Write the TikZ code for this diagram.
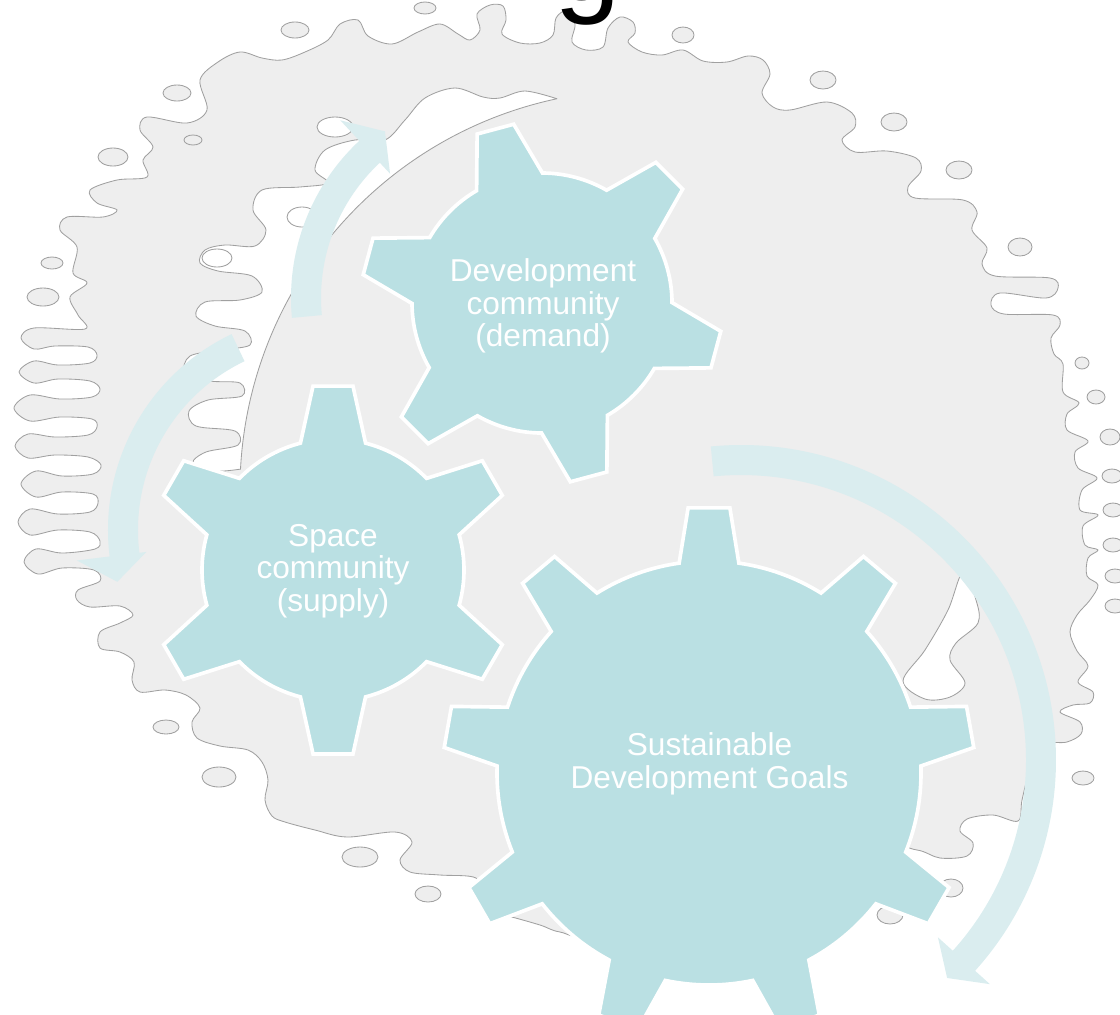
\documentclass[tikz,border=0pt]{standalone}
\usepackage{fontspec}
\newfontfamily\gearfont{Liberation Sans}
\definecolor{gearfill}{RGB}{186,224,227}
\definecolor{arrowfill}{RGB}{218,237,239}
\definecolor{splatgray}{RGB}{238,238,238}
\definecolor{splatline}{RGB}{160,160,160}
\tikzstyle{gear}=[fill=gearfill, draw=white, line width=2.6pt]
\tikzstyle{cyclearrow}=[fill=arrowfill]
\tikzstyle{splat}=[fill=splatgray, draw=splatline, line width=0.6pt]
\tikzstyle{hole}=[fill=white, draw=splatline, line width=0.6pt]
\tikzstyle{gearlabel}=[text=white, align=center, inner sep=0pt, font=\gearfont\fontsize{22.5pt}{23.3pt}\selectfont]

% centre, teeth, first tooth, body radius, tip radius, half base angle, half tip angle
\newcommand{\gearshape}[7]{%
  \filldraw[gear, shift={#1}] ({#3-#6}:#4)
    \foreach \k in {1,...,#2} {
      -- ({#3+(\k-1)*360/#2-#7}:#5) -- ({#3+(\k-1)*360/#2+#7}:#5)
      -- ({#3+(\k-1)*360/#2+#6}:#4)
      arc[start angle={#3+(\k-1)*360/#2+#6}, end angle={#3+\k*360/#2-#6}, radius=#4]
    } -- cycle;
}

\begin{document}
\begin{tikzpicture}[x=0.25mm, y=-0.25mm]
  \useasboundingbox (0,0) rectangle (1120,1014);

  % splash in the background
  \draw[splat] plot[smooth cycle, tension=0.55] coordinates {
    (200,80) (218,62) (240,52) (262,58) (282,60) (305,52) (328,40) (340,24) (358,20) (368,36)
    (392,44) (418,32) (440,24) (458,34) (470,40) (480,30) (477,14) (490,5) (503,6) (506,20)
    (502,34) (520,43) (540,43) (553,35) (556,18) (566,11) (575,24) (572,42) (586,50) (603,47)
    (608,28) (620,17) (633,22) (635,33) (628,42) (642,52) (662,55) (683,50) (703,61) (727,62)
    (748,56) (763,60) (770,74) (762,93) (773,107) (790,110) (827,102) (852,113) (855,127) (842,140)
    (855,152) (887,151) (916,158) (921,171) (908,187) (915,198) (963,200) (977,212) (972,230) (987,248)
    (982,264) (995,276) (1050,278) (1058,288) (1046,298) (1000,293) (991,305) (1004,314) (1053,315) (1060,325)
    (1051,338) (1054,354) (1063,364) (1063,392) (1079,403) (1067,414) (1067,430) (1088,441) (1075,452) (1078,468)
    (1097,478) (1082,490) (1080,510) (1098,515) (1083,526) (1085,545) (1098,550) (1088,558) (1087,576) (1098,585)
    (1090,600) (1077,615) (1070,632) (1077,651) (1088,666) (1078,682) (1093,692) (1090,703) (1073,705) (1060,712)
    (1080,722) (1081,734) (1067,742) (1045,745) (1030,770) (1022,800) (1018,821) (993,815) (967,819) (960,831)
    (973,843) (967,856) (940,858) (917,850) (880,850) (760,900) (600,935) (560,932) (540,925) (508,916)
    (488,912) (483,898) (476,878) (440,875) (410,872) (400,860) (412,842) (395,832) (347,837) (315,830)
    (285,822) (272,816) (265,800) (268,780) (262,762) (248,750) (220,746) (197,738) (192,722) (200,708)
    (186,695) (165,690) (140,692) (132,680) (134,662) (120,652) (100,648) (100,632) (120,623) (133,615)
    (120,606) (90,607) (77,600) (78,590) (100,581)
    (94,570) (62,568) (38,574) (24,562) (36,549) (62,553) (95,549) (100,541)
    (90,532) (58,530) (30,535) (18,522) (30,509) (58,514) (90,512) (98,503)
    (93,494) (62,492) (36,497) (21,484) (36,471) (62,476) (93,474) (101,465)
    (88,457) (55,455) (28,458) (15,446) (28,434) (55,437) (88,435) (97,427)
    (92,419) (60,417) (30,421) (14,408) (30,395) (60,399) (92,397) (100,389)
    (90,381) (58,379) (34,383) (19,372) (34,361) (58,365) (90,363) (97,355)
    (88,347) (55,346) (34,349) (21,338) (34,328) (85,329)
    (78,315) (70,297) (87,283) (73,273) (77,247) (60,230) (67,217) (103,217) (117,210) (97,203)
    (90,190) (117,180) (147,177) (143,160) (153,147) (140,130) (147,117) (187,123) (207,110)};

  % white gaps inside the splash
  \draw[hole] (240.5,469.1) arc[start angle=183, end angle=258, radius=400]
    -- plot[smooth, tension=0.55] coordinates {
      (556.8,98.7) (525,91) (500,98) (483,97) (455,88) (425,98) (405,120) (385,140) (355,140) (325,150)
      (315,170) (328,183) (300,187) (262,190) (253,210) (266,230) (255,246) (225,245) (205,250) (200,263)
      (218,271) (252,276) (262,292) (240,300) (205,302) (196,316) (215,326) (245,331) (250,345) (222,350)
      (190,356) (185,373) (210,381) (240,383) (242,396) (208,400) (189,411) (196,426) (235,431) (238,445)
      (206,452) (193,463) (215,471) (240.5,469.1)} -- cycle;
  \draw[hole] plot[smooth cycle, tension=0.55] coordinates {
    (963,572) (976,600) (978,623) (956,643) (950,660) (965,683) (950,697) (925,699) (903,681) (925,650) (948,610)};
  \foreach \x/\y/\a/\b in {335/127/18/10, 302/217/15/10, 217/258/15/9}
    \draw[hole] (\x,\y) ellipse [x radius=\a, y radius=\b];

  % drops round the splash
  \foreach \x/\y/\a/\b in {177/93/14/8, 193/140/9/5, 113/157/15/9, 52/263/11/6, 43/297/16/9,
      295/30/14/8, 425/8/11/6, 683/35/11/8, 823/80/13/9, 894/122/13/9, 959/170/13/9,
      1020/247/12/9, 1082/363/7/6, 1096/397/9/7, 1110/437/10/8, 1112/476/10/7, 1113/510/10/7,
      1113/545/10/7, 1115/576/10/7, 1115/606/10/7, 1083/778/11/7, 890/915/13/9, 951/888/12/9,
      166/727/13/7, 219/777/17/10, 360/857/18/10, 428/894/13/8}
    \draw[splat] (\x,\y) ellipse [x radius=\a, y radius=\b];

  % cycle arrows
  \coordinate (ac) at (506,298);
  \coordinate (bc) at (325,530);
  \coordinate (cc) at (741,760);
  \fill[cyclearrow, shift={(ac)}] (174.7:215) arc[start angle=174.7, end angle=227, radius=215]
    -- (227:243) -- (234:206) -- (227:170) -- (227:185)
    arc[start angle=227, end angle=174.7, radius=185] -- cycle;
  \fill[cyclearrow, shift={(bc)}] (244.5:217) arc[start angle=244.5, end angle=173, radius=217]
    -- (173:250) -- (166:214) -- (173:180) -- (173:187)
    arc[start angle=173, end angle=244.5, radius=187] -- cycle;
  \fill[cyclearrow, shift={(cc)}] (264.5:315) arc[start angle=264.5, end angle=402, radius=315]
    -- (402:335) -- (406.6:300) -- (402:265) -- (402:285)
    arc[start angle=402, end angle=264.5, radius=285] -- cycle;

  % gears
  \coordinate (devc) at (542,303);
  \coordinate (spacec) at (333,570);
  \coordinate (sdgc) at (709,773);
  \gearshape{(devc)}{6}{15}{130}{181}{15.2}{6.0}
  \gearshape{(spacec)}{6}{30}{131}{185}{14.4}{6.2}
  \gearshape{(sdgc)}{9}{30}{212}{266}{8.1}{4.5}

  \node[gearlabel] (dev) at (543,306) {Development\\community\\(demand)};
  \node[gearlabel] (space) at (333,571) {Space\\community\\(supply)};
  \node[gearlabel] (sdg) at (709.5,764) {Sustainable\\Development Goals};

  % title letter cut by the top edge
  \node[anchor=base, inner sep=0pt, font=\gearfont\fontsize{85pt}{90pt}\selectfont] (title) at (588,0) {g};
\end{tikzpicture}
\end{document}
